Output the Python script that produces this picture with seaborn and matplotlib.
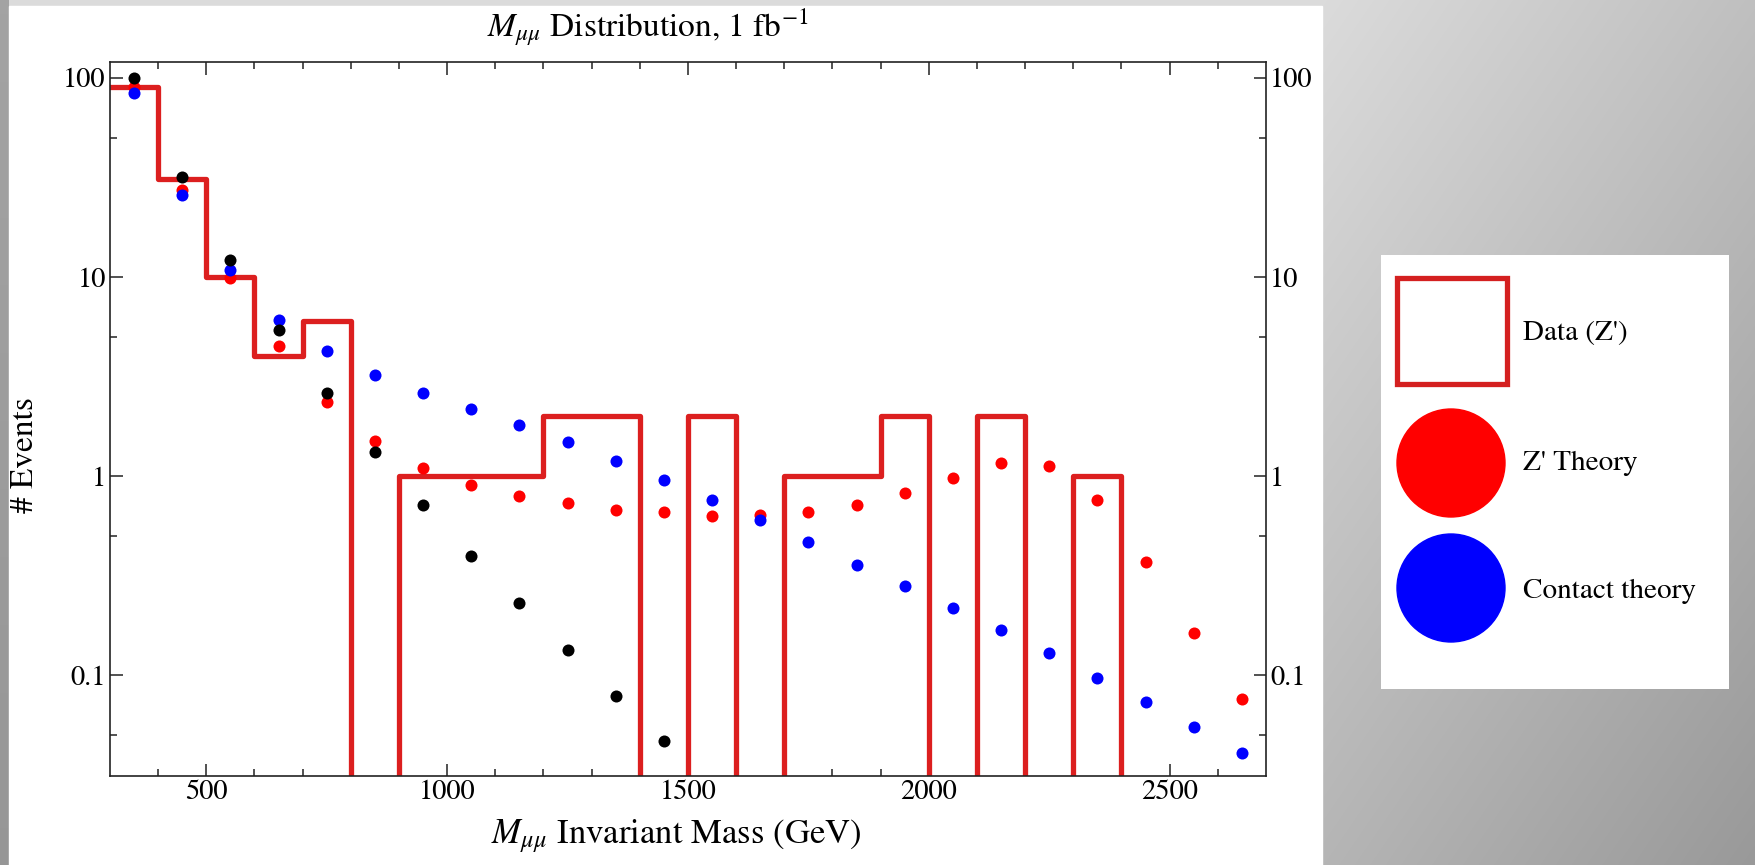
import numpy as np
import pandas as pd
import matplotlib
matplotlib.use("Agg")
import matplotlib.pyplot as plt
import seaborn as sns
from matplotlib.patches import Rectangle, Circle
from matplotlib.ticker import FixedLocator, FixedFormatter, NullFormatter

# DATA

bin_edges = [300, 400, 500, 600, 700, 800, 900, 1200, 1400, 1500, 1600, 1700,
             1900, 2000, 2100, 2200, 2300, 2400, 2700]
data_counts = [90, 31, 10, 4, 6, 0, 1, 2, 0, 2, 0, 1, 2, 0, 2, 0, 1, 0]

mass_centers = [350, 450, 550, 650, 750, 850, 950, 1050, 1150, 1250, 1350, 1450,
                1550, 1650, 1750, 1850, 1950, 2050, 2150, 2250, 2350, 2450, 2550, 2650]
zprime_theory = [90, 27.3, 9.9, 4.5, 2.36, 1.50, 1.10, 0.90, 0.80, 0.73, 0.68, 0.66,
                 0.635, 0.64, 0.66, 0.72, 0.82, 0.975, 1.17, 1.13, 0.76, 0.37, 0.163, 0.076]
contact_theory = [84, 25.9, 10.9, 6.05, 4.24, 3.24, 2.61, 2.18, 1.81, 1.48, 1.19, 0.96,
                  0.76, 0.60, 0.466, 0.36, 0.28, 0.218, 0.17, 0.129, 0.097, 0.074, 0.055, 0.041]
standard_model = [100, 31.6, 12.2, 5.4, 2.62, 1.33, 0.72, 0.40, 0.23, 0.134, 0.079, 0.047]

legend_labels = ["Data (Z')", "Z' Theory", "Contact theory"]

W, H = 1756, 865
RED = "#dc1f1f"

plt.rcParams['font.family'] = ['STIXGeneral', 'DejaVu Serif']
plt.rcParams['mathtext.fontset'] = 'stix'

fig = plt.figure(figsize=(W / 100, H / 100), dpi=100)

# gray gradient backdrop
bg = fig.add_axes([0, 0, 1, 1], zorder=-10)
yy, xx = np.mgrid[0:H, 0:W]
shade = 0.86 - 0.11 * np.clip((xx - 1322) / 434, 0, 1) - 0.15 * yy / H
shade[:, :9] = 0.64 - 0.05 * yy[:, :9] / H
bg.imshow(np.dstack([shade] * 3), aspect='auto', extent=[0, W, H, 0])
bg.add_patch(Rectangle((9, 6), 1322 - 9, H - 6, color='white'))
bg.set_xlim(0, W)
bg.set_ylim(H, 0)
bg.axis('off')

# main axes
ax = fig.add_axes([110 / W, 1 - 776 / H, (1266 - 110) / W, (776 - 62) / H])
ax.set_yscale('log')

hist_df = pd.DataFrame({'edge': bin_edges,
                        'count': np.clip(data_counts + [data_counts[-1]], 1e-3, None)})
sns.lineplot(data=hist_df, x='edge', y='count', drawstyle='steps-post', color=RED,
             lw=3.8, estimator=None, sort=False, ax=ax, zorder=2)

z_df = pd.DataFrame({'mass': mass_centers, 'events': zprime_theory})
c_df = pd.DataFrame({'mass': mass_centers, 'events': contact_theory})
s_df = pd.DataFrame({'mass': mass_centers[:len(standard_model)], 'events': standard_model})
sns.scatterplot(data=z_df, x='mass', y='events', color='#ff0000', s=75, linewidth=0, ax=ax, zorder=3)
sns.scatterplot(data=c_df, x='mass', y='events', color='#0000ff', s=75, linewidth=0, ax=ax, zorder=4)
sns.scatterplot(data=s_df, x='mass', y='events', color='black', s=75, linewidth=0, ax=ax, zorder=5)

ax.set_xlim(300, 2700)
ax.set_ylim(0.0313, 120)

ax.xaxis.set_major_locator(FixedLocator([500, 1000, 1500, 2000, 2500]))
ax.xaxis.set_minor_locator(FixedLocator(list(range(400, 2700, 100))))
ax.yaxis.set_major_locator(FixedLocator([0.1, 1, 10, 100]))
ax.yaxis.set_major_formatter(FixedFormatter(['0.1', '1', '10', '100']))
ax.yaxis.set_minor_locator(FixedLocator([0.05, 0.5, 5, 50]))
ax.yaxis.set_minor_formatter(NullFormatter())
ax.tick_params(which='both', direction='in', top=True, right=True, labelright=True,
               labelsize=20.5, color='#222222', width=1.1, pad=3)
ax.tick_params(which='major', length=9)
ax.tick_params(which='minor', length=5)
for sp in ax.spines.values():
    sp.set_linewidth(1.2)
    sp.set_color('#222222')
ax.set_xlabel("")
ax.set_ylabel("")

fig.text(648 / W, 1 - 37 / H, r"$M_{\mu\mu}$ Distribution, 1 fb$^{-1}$",
         fontsize=24, ha='center', va='baseline')
fig.text(676 / W, 1 - 843 / H, r"$M_{\mu\mu}$ Invariant Mass (GeV)",
         fontsize=25, ha='center', va='baseline')
fig.text(25 / W, 1 - 455 / H, "# Events", fontsize=24, rotation=90,
         ha='center', va='center')

# legend box
lx0, ly0, lw, lh = 1381, 255, 348, 434
lax = fig.add_axes([lx0 / W, 1 - (ly0 + lh) / H, lw / W, lh / H])
lax.set_xlim(0, lw)
lax.set_ylim(lh, 0)
lax.set_facecolor('white')
for sp in lax.spines.values():
    sp.set_visible(False)
lax.set_xticks([])
lax.set_yticks([])
lax.add_patch(Rectangle((16, 23), 110, 106, fill=False, edgecolor='#d42020', lw=3.8))
lax.add_patch(Circle((70, 208), 54, color='#ff0000'))
lax.add_patch(Circle((70, 333), 54, color='#0000ff'))
for label, ty in zip(legend_labels, [78, 208, 336]):
    lax.text(142, ty, label, fontsize=21, va='center', ha='left')

fig.savefig("out.png", dpi=100)
